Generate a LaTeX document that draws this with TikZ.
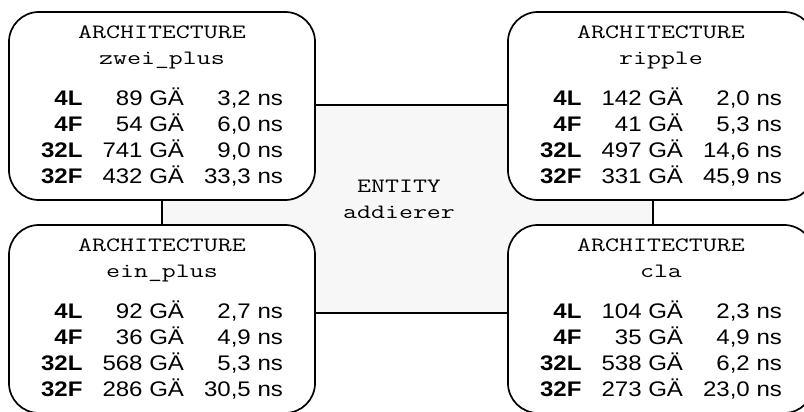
\documentclass[tikz,border=0pt]{standalone}
\usepackage{fontspec}
\setmainfont{Liberation Sans}[FakeStretch=1.14]
\newfontfamily\archmono{Latin Modern Mono}[FakeStretch=1.33]
\setlength{\tabcolsep}{0.25cm}
\newcommand{\archname}[1]{{\archmono\fontsize{14.5}{18.5}\selectfont #1}}

\begin{document}
\begin{tikzpicture}[x=0.025cm, y=-0.025cm,
    archbox/.style={rectangle, draw, line width=1.2pt, fill=white, rounded corners=0.75cm, minimum width=7.65cm, minimum height=4.7cm, inner sep=0pt, font=\fontsize{15}{18.5}\selectfont},
    entitybox/.style={rectangle, draw, line width=1.2pt, fill=gray!6, minimum width=12.275cm, minimum height=5.2cm, font=\fontsize{15}{18.5}\selectfont}
]
    \clip (0,0) rectangle (804,412);
    \node [entitybox] (addierer) at (407.5,209) {\raisebox{0pt}[\height][\dimexpr\depth+12pt\relax]{\begin{tabular}{@{}c@{\hspace{12pt}}}
        \archname{ENTITY}\\ \archname{addierer}\end{tabular}}};

    \node [archbox] (zweiplus) at (162,106) {\begin{tabular}{@{}c@{}}
        \archname{ARCHITECTURE}\\ \archname{zwei\_plus}\\[11pt]
        \begin{tabular}[t]{@{}rrr@{}}
        \textbf{4L} & 89 GÄ & 3,2 ns\\
        \textbf{4F} & 54 GÄ & 6,0 ns\\
        \textbf{32L} & 741 GÄ & 9,0 ns\\
        \textbf{32F} & 432 GÄ & 33,3 ns
        \end{tabular}\end{tabular}};
    \node [archbox] (ripple) at (661,106) {\begin{tabular}{@{}c@{}}
        \archname{ARCHITECTURE}\\ \archname{ripple}\\[11pt]
        \begin{tabular}[t]{@{}rrr@{}}
        \textbf{4L} & 142 GÄ & 2,0 ns\\
        \textbf{4F} & 41 GÄ & 5,3 ns\\
        \textbf{32L} & 497 GÄ & 14,6 ns\\
        \textbf{32F} & 331 GÄ & 45,9 ns
        \end{tabular}\end{tabular}};
    \node [archbox] (einplus) at (162,319) {\begin{tabular}{@{}c@{}}
        \archname{ARCHITECTURE}\\ \archname{ein\_plus}\\[11pt]
        \begin{tabular}[t]{@{}rrr@{}}
        \textbf{4L} & 92 GÄ & 2,7 ns\\
        \textbf{4F} & 36 GÄ & 4,9 ns\\
        \textbf{32L} & 568 GÄ & 5,3 ns\\
        \textbf{32F} & 286 GÄ & 30,5 ns
        \end{tabular}\end{tabular}};
    \node [archbox] (cla) at (661,319) {\begin{tabular}{@{}c@{}}
        \archname{ARCHITECTURE}\\ \archname{cla}\\[11pt]
        \begin{tabular}[t]{@{}rrr@{}}
        \textbf{4L} & 104 GÄ & 2,3 ns\\
        \textbf{4F} & 35 GÄ & 4,9 ns\\
        \textbf{32L} & 538 GÄ & 6,2 ns\\
        \textbf{32F} & 273 GÄ & 23,0 ns
        \end{tabular}\end{tabular}};
\end{tikzpicture}
\end{document}
